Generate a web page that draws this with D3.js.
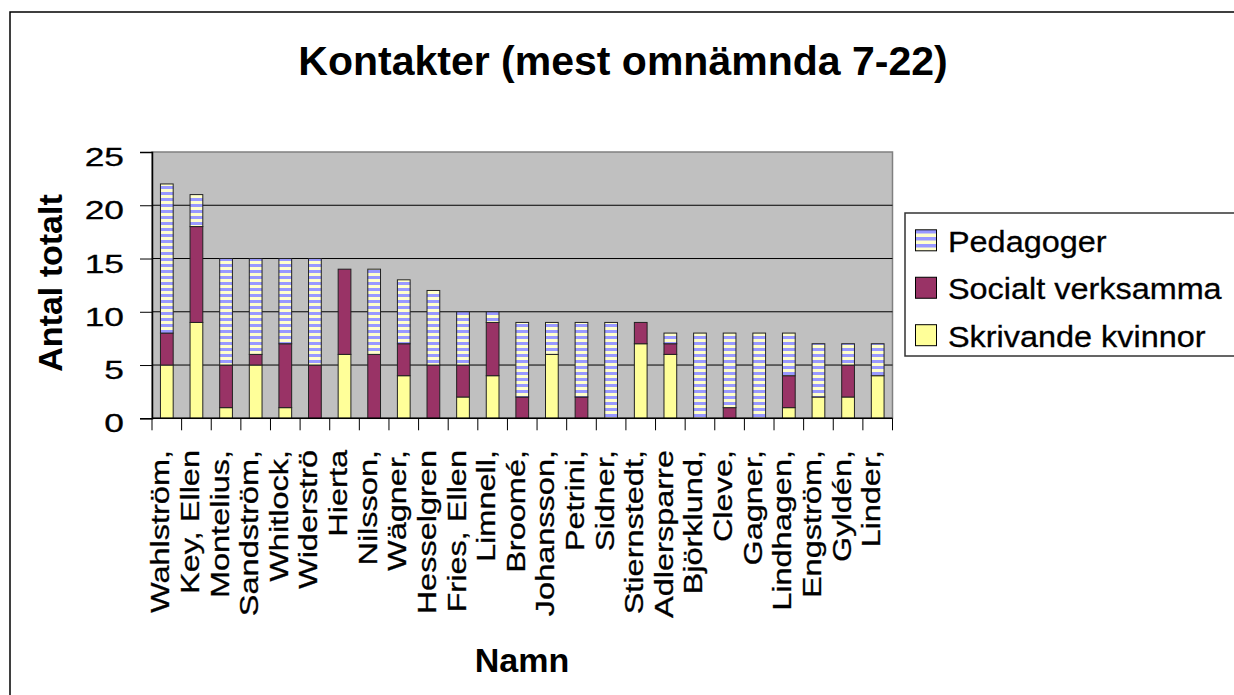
<!DOCTYPE html>
<html>
<head>
<meta charset="utf-8">
<script src="https://cdn.jsdelivr.net/npm/d3@7/dist/d3.min.js"></script>
<style>
  html, body { margin: 0; padding: 0; background: #fff; overflow: hidden; }
  svg { display: block; font-family: "Liberation Sans", Arial, sans-serif; }
</style>
</head>
<body>
<svg id="chart" width="1234" height="695"></svg>
<script>
// ---- data ----
const names = ["Wahlström,", "Key, Ellen", "Montelius,", "Sandström,", "Whitlock,", "Widerströ", "Hierta",
  "Nilsson,", "Wägner,", "Hesselgren", "Fries, Ellen", "Limnell,", "Broomé,", "Johansson,", "Petrini,",
  "Sidner,", "Stiernstedt,", "Adlersparre", "Björklund,", "Cleve,", "Gagner,", "Lindhagen,", "Engström,",
  "Gyldén,", "Linder,"];
const skrivande = [5, 9, 1, 5, 1, 0, 6, 0, 4, 0, 2, 4, 0, 6, 0, 0, 7, 6, 0, 0, 0, 1, 2, 2, 4];
const socialt   = [3, 9, 4, 1, 6, 5, 8, 6, 3, 5, 3, 5, 2, 0, 2, 0, 2, 1, 0, 1, 0, 3, 0, 3, 0];
const pedagoger = [14, 3, 10, 9, 8, 10, 0, 8, 6, 7, 5, 1, 7, 3, 7, 9, 0, 1, 8, 7, 8, 4, 5, 2, 3];
const yTicks = [0, 5, 10, 15, 20, 25];
const seriesNames = ["Pedagoger", "Socialt verksamma", "Skrivande kvinnor"];
const titleText = "Kontakter (mest omnämnda 7-22)";
const xTitle = "Namn";
const yTitle = "Antal totalt";

// ---- layout ----
const plot = { left: 152, right: 892.5, top: 152, bottom: 418.3 };
const colors = { ped: "url(#stripes)", soc: "#993366", skr: "#FFFF99" };

const svg = d3.select("#chart");
const defs = svg.append("defs");
const pat = defs.append("pattern").attr("id", "stripes")
  .attr("patternUnits", "userSpaceOnUse").attr("width", 8).attr("height", 6);
pat.append("rect").attr("width", 8).attr("height", 6).attr("fill", "#FFFFCC");
pat.append("rect").attr("width", 8).attr("height", 3).attr("fill", "#9999FF");
const pat2 = defs.append("pattern").attr("id", "stripesL")
  .attr("patternUnits", "userSpaceOnUse").attr("width", 8).attr("height", 7).attr("y", 230);
pat2.append("rect").attr("width", 8).attr("height", 7).attr("fill", "#FFFFCC");
pat2.append("rect").attr("width", 8).attr("height", 3.5).attr("fill", "#9999FF");

// outer chart border
svg.append("rect").attr("x", 10).attr("y", 12).attr("width", 1300).attr("height", 800)
  .attr("fill", "#fff").attr("stroke", "#000").attr("stroke-width", 1.5);

// scales
const x = d3.scaleBand().domain(names).range([plot.left, plot.right]).paddingInner(0.57).paddingOuter(0.285);
const xb = d3.scaleBand().domain(names).range([plot.left, plot.right]).padding(0);
const y = d3.scaleLinear().domain([0, 25]).range([plot.bottom, plot.top]);

// plot background
svg.append("rect").attr("x", plot.left).attr("y", plot.top)
  .attr("width", plot.right - plot.left).attr("height", plot.bottom - plot.top)
  .attr("fill", "#C0C0C0").attr("stroke", "#808080").attr("stroke-width", 1.5);

// gridlines
svg.append("g").selectAll("line").data(yTicks.filter(d => d > 0 && d < 25)).join("line")
  .attr("x1", plot.left).attr("x2", plot.right)
  .attr("y1", d => y(d)).attr("y2", d => y(d))
  .attr("stroke", "#000").attr("stroke-width", 1);

// stacked bars
const rows = names.map((n, i) => ({ name: n, skr: skrivande[i], soc: socialt[i], ped: pedagoger[i] }));
const stack = d3.stack().keys(["skr", "soc", "ped"])(rows);
const gBars = svg.append("g");
stack.forEach(layer => {
  gBars.append("g").selectAll("rect").data(layer.filter(d => d[1] - d[0] > 0)).join("rect")
    .attr("x", d => x(d.data.name))
    .attr("width", x.bandwidth())
    .attr("y", d => y(d[1]))
    .attr("height", d => y(d[0]) - y(d[1]))
    .attr("fill", colors[layer.key])
    .attr("stroke", "#222").attr("stroke-width", 1);
});

// y axis
const yAxis = d3.axisLeft(y).tickValues(yTicks).tickSize(12).tickFormat("");
const gy = svg.append("g").attr("transform", `translate(${plot.left},0)`).call(yAxis);
gy.select(".domain").attr("stroke", "#000").attr("stroke-width", 1.5);
gy.selectAll(".tick line").attr("stroke", "#000");
svg.append("g").selectAll("text").data(yTicks).join("text")
  .attr("transform", d => `translate(124,${y(d) + 14}) scale(1.36,1)`)
  .attr("text-anchor", "end").attr("font-size", 26).attr("fill", "#000")
  .attr("stroke", "#000").attr("stroke-width", 0.3)
  .text(d => d);

// x axis
const gx = svg.append("g").attr("transform", `translate(0,${plot.bottom})`);
gx.append("line").attr("x1", plot.left).attr("x2", plot.right).attr("stroke", "#000").attr("stroke-width", 1.5);
const bounds = names.map(n => xb(n)).concat([plot.right]);
gx.selectAll("line.tk").data(bounds).join("line").attr("class", "tk")
  .attr("x1", d => d).attr("x2", d => d).attr("y1", 0).attr("y2", 12)
  .attr("stroke", "#000").attr("stroke-width", 1);
svg.append("g").selectAll("text").data(names).join("text")
  .attr("transform", d => `translate(${xb(d) + xb.bandwidth() / 2 + 2.5},450) rotate(-90) scale(1.3,1)`)
  .attr("text-anchor", "end").attr("font-size", 25).attr("fill", "#000")
  .attr("stroke", "#000").attr("stroke-width", 0.3)
  .text(d => d);

// titles
svg.append("text").attr("x", 623).attr("y", 75).attr("text-anchor", "middle")
  .attr("font-size", 41).attr("font-weight", "bold").text(titleText);
svg.append("text").attr("x", 522).attr("y", 672).attr("text-anchor", "middle")
  .attr("font-size", 34).attr("font-weight", "bold").text(xTitle);
svg.append("text").attr("transform", "translate(62,283) rotate(-90)").attr("text-anchor", "middle")
  .attr("font-size", 34).attr("font-weight", "bold").text(yTitle);

// legend
const lg = svg.append("g");
lg.append("rect").attr("x", 905).attr("y", 213).attr("width", 400).attr("height", 143)
  .attr("fill", "#fff").attr("stroke", "#333").attr("stroke-width", 1.5);
const legFills = ["url(#stripesL)", colors.soc, colors.skr];
const legY = d3.scalePoint().domain(seriesNames).range([240.3, 335.2]);
lg.selectAll("rect.sw").data(seriesNames).join("rect").attr("class", "sw")
  .attr("x", 915.5).attr("y", d => legY(d) - 10.5).attr("width", 21).attr("height", 21)
  .attr("fill", (d, i) => legFills[i]).attr("stroke", "#000").attr("stroke-width", 1);
lg.selectAll("text").data(seriesNames).join("text")
  .attr("transform", d => `translate(948,${legY(d) + 11.5}) scale(1.08,1)`)
  .attr("font-size", 30).attr("fill", "#000")
  .attr("stroke", "#000").attr("stroke-width", 0.3)
  .text(d => d);
</script>
</body>
</html>
